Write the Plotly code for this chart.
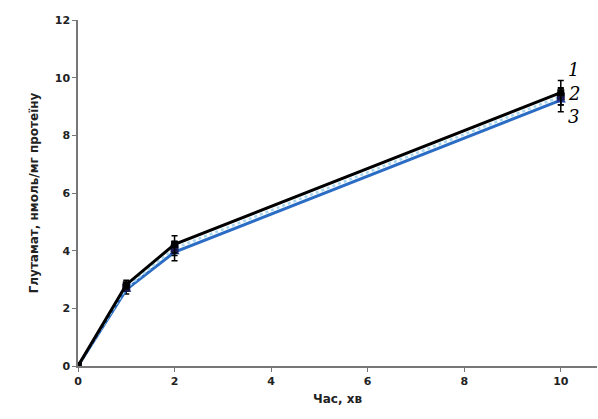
import plotly.graph_objects as go

x = [0, 1, 2, 10]
s1 = [0, 2.82, 4.22, 9.48]
s2 = [0, 2.72, 4.08, 9.35]
s3 = [0, 2.65, 3.95, 9.22]
e1 = [0.05, 0.15, 0.3, 0.42]
e2 = [0.05, 0.12, 0.25, 0.3]
e3 = [0.05, 0.15, 0.3, 0.4]
labels = ["1", "2", "3"]
label_y = [10.3, 9.45, 8.65]

fig = go.Figure()
fig.add_trace(go.Scatter(x=x, y=s3, mode="lines+markers",
    line=dict(color="#2b6cc4", width=3),
    marker=dict(symbol="triangle-up", size=9, color="#1f3f9e"),
    error_y=dict(type="data", array=e3, color="black", thickness=1.5, width=3)))
fig.add_trace(go.Scatter(x=x, y=s2, mode="lines+markers",
    line=dict(color="#a8d8f0", width=2.5, dash="dot"),
    marker=dict(symbol="square", size=8, color="#1a1a50"),
    error_y=dict(type="data", array=e2, color="black", thickness=1.5, width=3)))
fig.add_trace(go.Scatter(x=x, y=s1, mode="lines+markers",
    line=dict(color="black", width=3),
    marker=dict(symbol="square", size=7, color="black"),
    error_y=dict(type="data", array=e1, color="black", thickness=1.5, width=3)))

for lab, ly in zip(labels, label_y):
    fig.add_annotation(x=10.1, y=ly, text="<i>" + lab + "</i>", showarrow=False, xanchor="left",
        font=dict(family="DejaVu Serif", size=18, color="black"))

fig.update_layout(
    width=598, height=419,
    margin=dict(l=78, r=1, t=20, b=53),
    paper_bgcolor="white", plot_bgcolor="white",
    showlegend=False,
    font=dict(family="DejaVu Sans", color="#222"),
)
fig.update_xaxes(range=[0, 10.75], tickvals=[0, 2, 4, 6, 8, 10],
    showline=True, linecolor="#777", linewidth=1.5, ticks="outside", ticklen=4,
    tickcolor="#777", showgrid=False, zeroline=False,
    tickfont=dict(size=11, family="DejaVu Sans", weight="bold"),
    title=dict(text="<b>Час, хв</b>", font=dict(size=12), standoff=8))
fig.update_yaxes(range=[0, 12], tickvals=[0, 2, 4, 6, 8, 10, 12],
    showline=True, linecolor="#777", linewidth=1.5, ticks="outside", ticklen=4,
    tickcolor="#777", showgrid=False, zeroline=False,
    tickfont=dict(size=11, family="DejaVu Sans", weight="bold"),
    title=dict(text="<b>Глутамат, нмоль/мг протеїну</b>", font=dict(size=12), standoff=14))

fig.write_html("out.html")
